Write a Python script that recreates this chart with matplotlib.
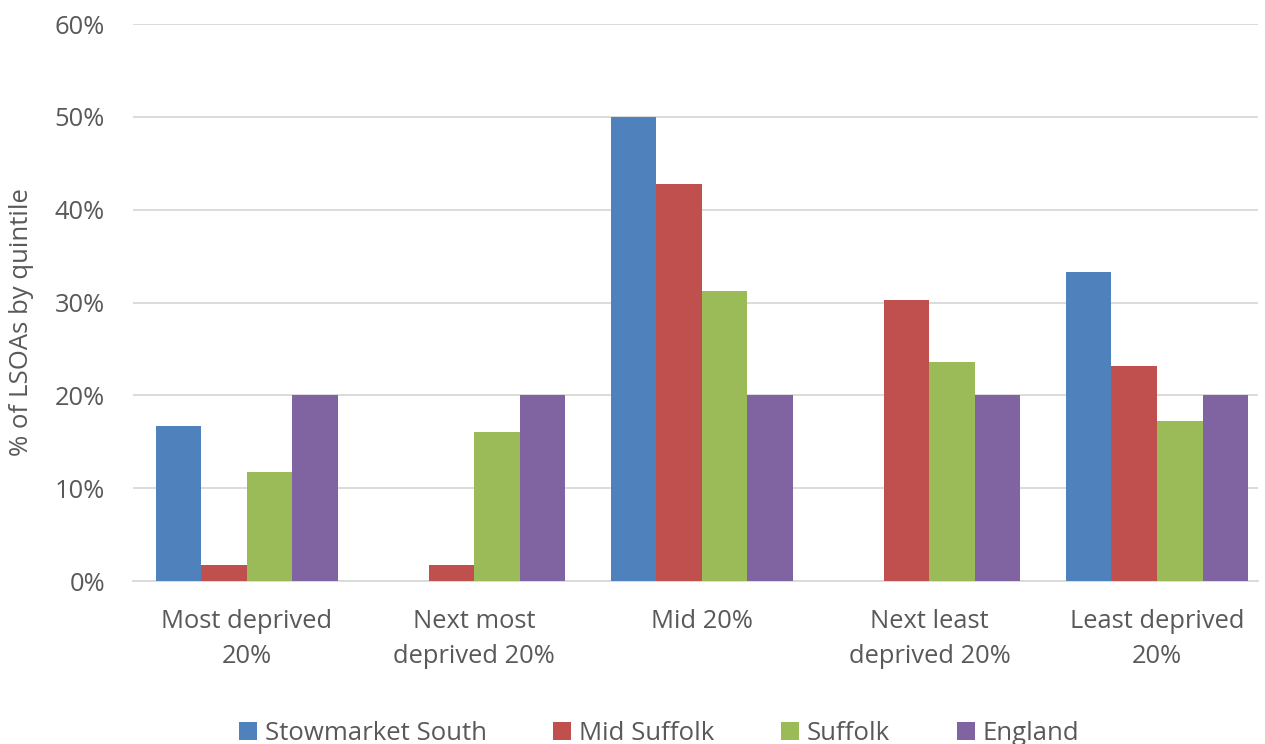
import numpy as np
import matplotlib.pyplot as plt
from matplotlib.ticker import PercentFormatter

# data (percent of LSOAs)
categories = ['Most deprived\n20%', 'Next most\ndeprived 20%', 'Mid 20%',
              'Next least\ndeprived 20%', 'Least deprived\n20%']
series_names = ['Stowmarket South', 'Mid Suffolk', 'Suffolk', 'England']
stowmarket_south = [16.7, 0.0, 50.0, 0.0, 33.3]
mid_suffolk = [1.7, 1.7, 42.8, 30.3, 23.2]
suffolk = [11.7, 16.1, 31.2, 23.6, 17.2]
england = [20.0, 20.0, 20.0, 20.0, 20.0]
colors = ['#4F81BD', '#C0504D', '#9BBB59', '#8064A2']

plt.rcParams['font.family'] = ['Open Sans', 'DejaVu Sans']
text_color = '#595959'

fig = plt.figure(figsize=(12.65, 7.44), dpi=100, facecolor='white')
ax = fig.add_axes([0.105, 0.219, 0.8895, 0.7487])

x = np.arange(len(categories))
width = 0.2
allseries = [stowmarket_south, mid_suffolk, suffolk, england]
for idx, vals in enumerate(allseries):
    ax.bar(x + (idx - 1.5) * width, vals, width, color=colors[idx],
           label=series_names[idx], zorder=3)

ax.set_xlim(-0.5, len(categories) - 0.556)
ax.set_ylim(0, 60)
ax.set_yticks(np.arange(0, 61, 10))
ax.yaxis.set_major_formatter(PercentFormatter(decimals=0))
ax.grid(axis='y', color='#D9D9D9', linewidth=1.3, zorder=0)
for side in ['top', 'right', 'left']:
    ax.spines[side].set_visible(False)
ax.spines['bottom'].set_color('#D9D9D9')
ax.spines['bottom'].set_linewidth(1.3)
ax.tick_params(axis='both', length=0, labelsize=18.4, colors=text_color)
ax.tick_params(axis='y', pad=20)
ax.tick_params(axis='x', pad=20)
ax.set_xticks(x)
ax.set_xticklabels(categories, linespacing=1.55)
ax.set_ylabel('% of LSOAs by quintile', fontsize=18.5, color=text_color)
ax.yaxis.set_label_coords(-0.0875, 0.465)

leg = fig.legend(loc='center', bbox_to_anchor=(0.521, 0.014), ncol=4,
                 frameon=False, fontsize=18.5, handlelength=0.7, handleheight=0.7,
                 handletextpad=0.3, columnspacing=2.6)
for t in leg.get_texts():
    t.set_color(text_color)

fig.savefig('out.png', dpi=100, facecolor='white')
